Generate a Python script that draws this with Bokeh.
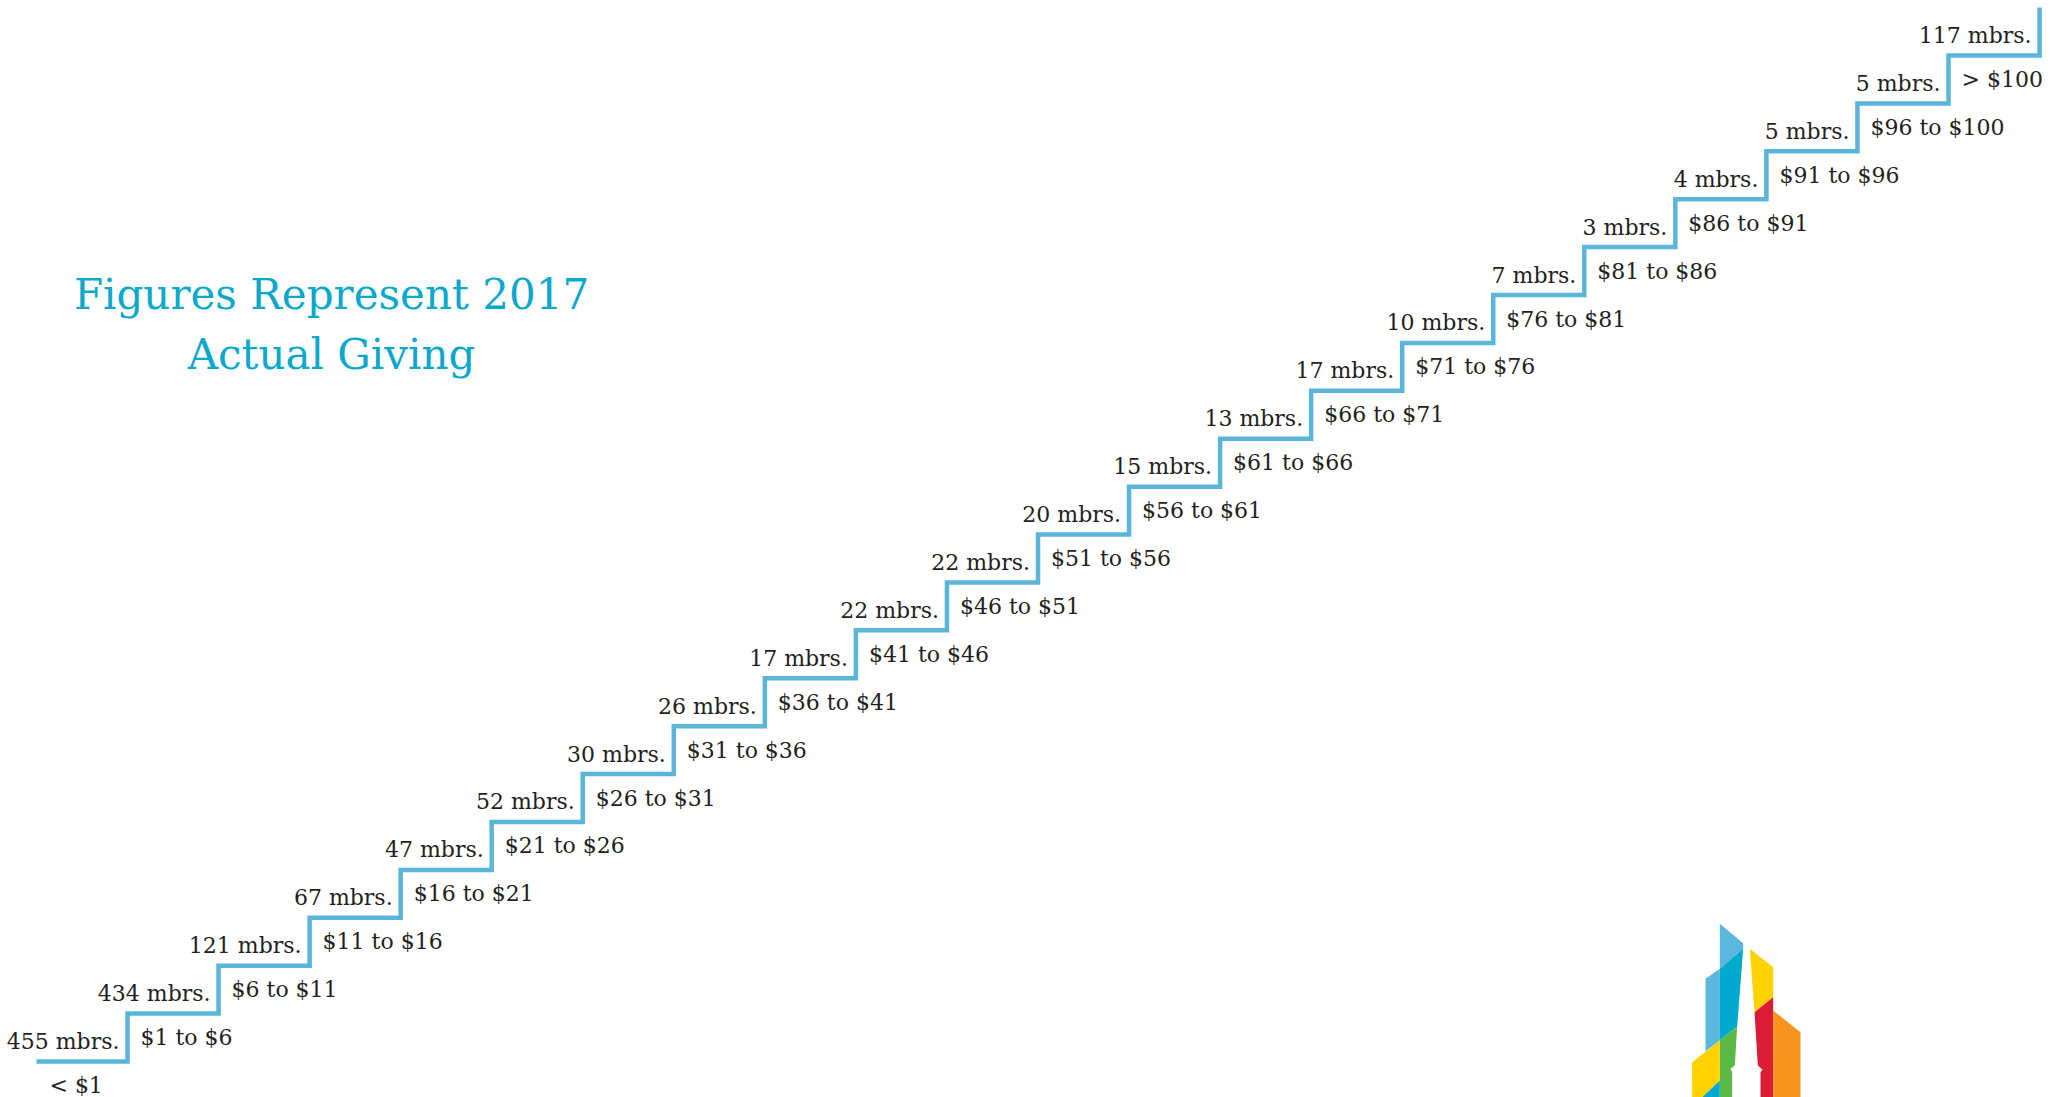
import numpy as np
from bokeh.plotting import figure
from bokeh.models import Range1d, ColumnDataSource
from bokeh.core.properties import value
from bokeh.embed import file_html
from bokeh.resources import INLINE

# ---- data ----
members = [455, 434, 121, 67, 47, 52, 30, 26, 17, 22, 22, 20, 15, 13, 17, 10, 7, 3, 4, 5, 5, 117]
ranges = ["< $1", "$1 to $6", "$6 to $11", "$11 to $16", "$16 to $21", "$21 to $26",
          "$26 to $31", "$31 to $36", "$36 to $41", "$41 to $46", "$46 to $51",
          "$51 to $56", "$56 to $61", "$61 to $66", "$66 to $71", "$71 to $76",
          "$76 to $81", "$81 to $86", "$86 to $91", "$91 to $96", "$96 to $100", "> $100"]
title_lines = ["Figures Represent 2017", "Actual Giving"]

# decorative logo (pixel space), colours
LOGO = [
    ("#5BB7DD", [(105, 235), (148, 205), (148, 420), (105, 452)]),
    ("#5BB7DD", [(148, 70), (218, 128), (218, 145), (148, 205)]),
    ("#00A9CE", [(148, 205), (218, 145), (200, 378), (148, 420)]),
    ("#5DB947", [(148, 420), (200, 378), (193, 495), (180, 505), (185, 515), (185, 600), (148, 600)]),
    ("#FFD200", [(65, 485), (148, 420), (148, 540), (85, 600), (65, 600)]),
    ("#00A9CE", [(85, 600), (148, 540), (148, 600)]),
    ("#FFD200", [(238, 145), (308, 200), (308, 290), (252, 335)]),
    ("#DC1C35", [(252, 335), (308, 290), (308, 600), (270, 600), (270, 515), (276, 508), (262, 495)]),
    ("#F7941D", [(308, 330), (390, 395), (390, 600), (308, 600)]),
]

W, H = 2057, 1097
X0, DX = 35.95, 91.05
Y0, DY = 1061.0, 47.905

p = figure(width=W, height=H, output_backend="svg", toolbar_location=None,
           x_range=Range1d(-X0 / DX, (W - X0) / DX),
           y_range=Range1d((Y0 - H) / DY, Y0 / DY),
           min_border=0, outline_line_color=None, background_fill_color="white",
           border_fill_color="white")
p.axis.visible = False
p.grid.visible = False
p.extra_x_ranges = {"px": Range1d(0, W)}
p.extra_y_ranges = {"px": Range1d(H, 0)}

n = len(members)
steps_x = np.arange(n + 1)
steps_y = np.arange(n + 1)
p.step(steps_x, steps_y, mode="after", line_color="#5AB5DB", line_width=4.5,
       line_join="miter")

font = value("DejaVu Serif")
src_m = ColumnDataSource(dict(x=np.arange(n) + 1, y=np.arange(n),
                              t=[f"{m} mbrs." for m in members]))
p.text("x", "y", text="t", source=src_m, text_align="right", text_baseline="alphabetic",
       x_offset=-8, y_offset=-20, text_font=font, text_font_size="22px", text_color="#231F20")
src_r = ColumnDataSource(dict(x=np.arange(n), y=np.arange(n), t=ranges))
p.text("x", "y", text="t", source=src_r, text_align="left", text_baseline="alphabetic",
       x_offset=13, y_offset=24, text_font=font, text_font_size="22px", text_color="#231F20")

p.text(x=[331, 331], y=[294, 354], text=title_lines, x_range_name="px", y_range_name="px",
       text_align="center", text_baseline="alphabetic", text_font=font,
       text_font_size="42px", text_color="#0AA8CC")

xs = [[1670 + a / 3 for a, b in poly] for c, poly in LOGO]
ys = [[900 + b / 3 for a, b in poly] for c, poly in LOGO]
p.patches(xs, ys, fill_color=[c for c, _ in LOGO], line_color=None,
          x_range_name="px", y_range_name="px")

open("out.html", "w").write(file_html(p, INLINE))
